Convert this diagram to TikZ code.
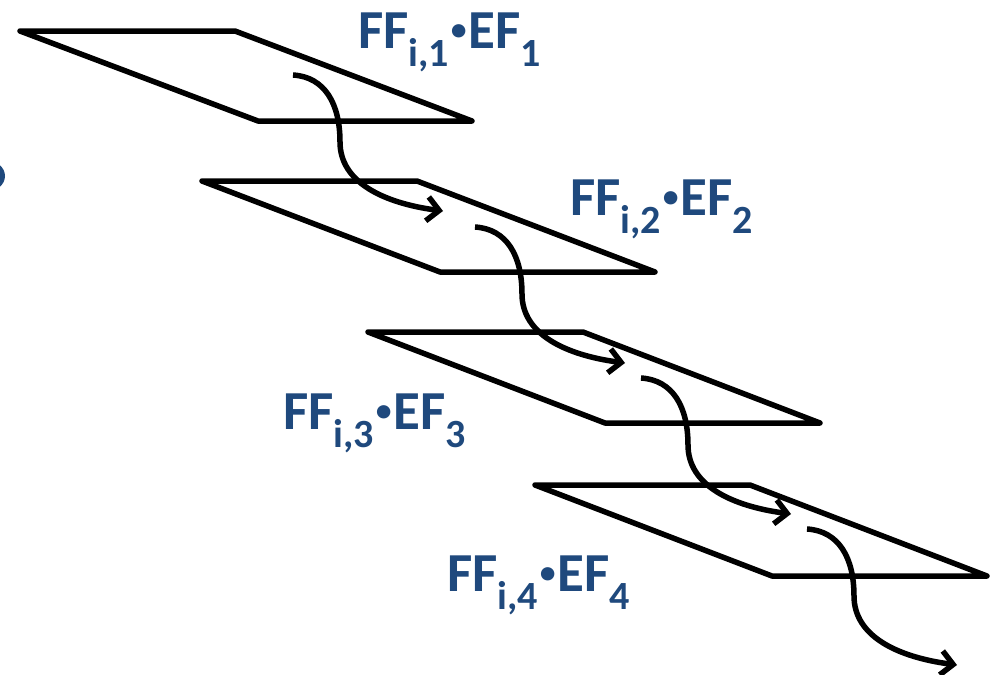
\documentclass[tikz,border=0pt]{standalone}
\usepackage{fontspec}
\setmainfont{Carlito}
\usetikzlibrary{arrows.meta,calc}
\definecolor{labblue}{RGB}{31,73,125}
\newcommand{\sbx}[1]{\raisebox{-18pt}{\fontsize{40}{40}\selectfont\bfseries #1}}
\newcommand{\mdot}{\raisebox{-3pt}{\fontsize{72}{72}\selectfont\bfseries ·}}
\newcommand{\flab}[1]{FF\sbx{i,#1}\mdot EF\sbx{#1}}
\tikzset{
  plane/.style={draw=black,line width=5.5pt,line join=round},
  flow/.style={draw=black,line width=5.5pt,-{Straight Barb[length=12pt,width=24pt,line width=5.5pt]}},
  lab/.style={text=labblue,font=\fontsize{55}{55}\selectfont\bfseries,anchor=base west,inner sep=0pt}
}
\begin{document}
\begin{tikzpicture}[x=1pt,y=-1pt]
\useasboundingbox (0,0) rectangle (994,675);
\clip (0,0) rectangle (994,675);
\fill[labblue] (-12,176) ellipse [x radius=17, y radius=15];
% planes
\draw[plane] (20,31) -- (235,31) -- (472,121) -- (258,121) -- cycle;
\draw[plane] (202,181) -- (417,181) -- (655,272) -- (440,272) -- cycle;
\draw[plane] (368,332) -- (583,332) -- (820,423) -- (605,423) -- cycle;
\draw[plane] (535,485) -- (750,485) -- (987,576) -- (772,576) -- cycle;
% flow arrows
\foreach \i/\sx/\sy in {1/293/75, 2/475/227, 3/641/378, 4/807/529}{
  \coordinate (s\i) at (\sx,\sy);
  \coordinate (m\i) at (\sx+47,\sy+67);
  \coordinate (e\i) at (\sx+150,\sy+136);
  \draw[flow] (s\i) .. controls ($(s\i)+(32,2)$) and ($(m\i)+(0,-38)$) .. (m\i)
     .. controls ($(m\i)+(0,40)$) and ($(e\i)+(-60,-8)$) .. (e\i);
}
% labels
\node[lab] (l1) at (358,48) {\flab{1}};
\node[lab] (l2) at (570,215) {\flab{2}};
\node[lab] (l3) at (283,429) {\flab{3}};
\node[lab] (l4) at (447,591) {\flab{4}};
\end{tikzpicture}
\end{document}
